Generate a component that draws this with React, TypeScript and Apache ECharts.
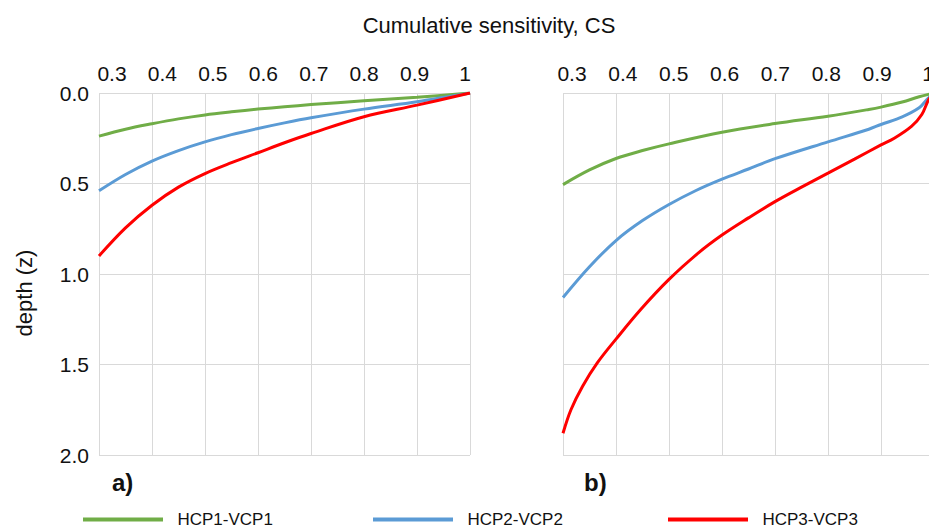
import React, { useEffect, useRef } from "react";
import * as echarts from "echarts";

const SERIES_NAMES = ["HCP1-VCP1", "HCP2-VCP2", "HCP3-VCP3"];
const COLORS = ["#70ad47", "#5b9bd5", "#ff0000"];
const PANEL_LABELS = ["a)", "b)"];
const X_TITLE = "Cumulative sensitivity, CS";
const Y_TITLE = "depth (z)";
const X_TICK_VALUES = [0.3, 0.4, 0.5, 0.6, 0.7, 0.8, 0.9, 1.0];

// Panel a) — cumulative sensitivity (CS) vs depth (z)
const A_CS_1 = [0.3, 0.35, 0.4, 0.45, 0.5, 0.55, 0.6, 0.65, 0.7, 0.8, 0.9, 1.0];
const A_Z_1 = [0.238, 0.2, 0.17, 0.143, 0.121, 0.104, 0.089, 0.076, 0.064, 0.043, 0.024, 0];
const A_CS_2 = [0.3, 0.35, 0.4, 0.45, 0.5, 0.55, 0.6, 0.65, 0.7, 0.8, 0.9, 1.0];
const A_Z_2 = [0.54, 0.45, 0.376, 0.318, 0.27, 0.23, 0.196, 0.165, 0.137, 0.089, 0.048, 0];
const A_CS_3 = [0.3, 0.35, 0.4, 0.45, 0.5, 0.55, 0.6, 0.65, 0.7, 0.8, 0.9, 1.0];
const A_Z_3 = [0.9, 0.745, 0.62, 0.52, 0.445, 0.385, 0.33, 0.275, 0.224, 0.131, 0.067, 0];

// Panel b)
const B_CS_1 = [0.3, 0.35, 0.4, 0.45, 0.5, 0.6, 0.7, 0.8, 0.877, 0.9, 0.94, 0.972, 1.0];
const B_Z_1 = [0.506, 0.425, 0.362, 0.318, 0.281, 0.217, 0.169, 0.128, 0.091, 0.078, 0.05, 0.021, 0];
const B_CS_2 = [0.3, 0.35, 0.4, 0.45, 0.5, 0.55, 0.6, 0.65, 0.7, 0.8, 0.877, 0.9, 0.94, 0.972, 0.987, 1.0];
const B_Z_2 = [1.13, 0.96, 0.815, 0.705, 0.616, 0.54, 0.476, 0.42, 0.363, 0.27, 0.2, 0.174, 0.132, 0.082, 0.035, 0];
const B_CS_3 = [0.3, 0.315, 0.337, 0.365, 0.4, 0.447, 0.5, 0.555, 0.6, 0.65, 0.7, 0.75, 0.8, 0.85, 0.9, 0.925, 0.958, 0.977, 0.99, 1.0];
const B_Z_3 = [1.88, 1.75, 1.62, 1.49, 1.36, 1.195, 1.03, 0.885, 0.785, 0.69, 0.6, 0.52, 0.443, 0.365, 0.287, 0.25, 0.183, 0.119, 0.036, 0];

const PANELS = [
  [
    [A_CS_1, A_Z_1],
    [A_CS_2, A_Z_2],
    [A_CS_3, A_Z_3],
  ],
  [
    [B_CS_1, B_Z_1],
    [B_CS_2, B_Z_2],
    [B_CS_3, B_Z_3],
  ],
];

const FONT = "'Liberation Sans', Arial, sans-serif";
const TEXT_COLOR = "#111111";
const GRID_COLOR = "#d9d9d9";

export default function App() {
  const ref = useRef<HTMLDivElement>(null);

  useEffect(() => {
    if (!ref.current) return;
    const chart = echarts.init(ref.current, null, { renderer: "svg" });

    const gridLefts = [99, 563];
    // label axes: the reference's tick labels sit slightly off the gridlines
    const labelRanges = [
      [0.2742, 1.0099],
      [0.2823, 1.0118],
    ];
    const fmt = (v: number) => String(Math.round(v * 10) / 10);

    const mainX = gridLefts.map((_, i) => ({
      type: "value",
      gridIndex: i,
      position: "top",
      min: 0.3,
      max: 1,
      interval: 0.1,
      axisLine: { show: false },
      axisTick: { show: false },
      axisLabel: { show: false },
      splitLine: { show: true, lineStyle: { color: GRID_COLOR, width: 1 } },
    }));
    const labelX = gridLefts.map((_, i) => ({
      type: "value",
      gridIndex: i,
      position: "top",
      offset: 0,
      min: labelRanges[i][0],
      max: labelRanges[i][1],
      axisLine: { show: false },
      axisTick: { show: false },
      splitLine: { show: false },
      axisLabel: {
        customValues: X_TICK_VALUES,
        fontSize: 21,
        color: TEXT_COLOR,
        fontFamily: FONT,
        margin: 9,
        formatter: fmt,
      },
    }));
    const yAxes = gridLefts.map((_, i) => ({
      type: "value",
      gridIndex: i,
      inverse: true,
      min: 0,
      max: 2,
      interval: 0.5,
      axisLine: { show: false },
      axisTick: { show: false },
      splitLine: { show: true, lineStyle: { color: GRID_COLOR, width: 1 } },
      axisLabel: {
        show: i === 0,
        fontSize: 21,
        color: TEXT_COLOR,
        fontFamily: FONT,
        margin: 10,
        formatter: (v: number) => v.toFixed(1),
      },
    }));

    const series: any[] = [];
    PANELS.forEach((panel, p) => {
      panel.forEach(([cs, z], s) => {
        series.push({
          type: "line",
          name: SERIES_NAMES[s],
          xAxisIndex: p,
          yAxisIndex: p,
          data: cs.map((c, k) => [c, z[k]]),
          showSymbol: false,
          smooth: 0.35,
          lineStyle: { width: 3, color: COLORS[s] },
          itemStyle: { color: COLORS[s] },
        });
      });
    });

    const legendLefts = [83, 373, 668];
    const legends = SERIES_NAMES.map((n, i) => ({
      data: [n],
      left: legendLefts[i],
      top: 511,
      padding: 0,
      icon: "rect",
      itemWidth: 80,
      itemHeight: 4,
      itemGap: 0,
      selectedMode: false,
      formatter: (name: string) => "  " + name,
      textStyle: {
        fontSize: 17,
        lineHeight: 16,
        color: TEXT_COLOR,
        fontFamily: FONT,
      },
    }));

    const textStyle = (text: string, size: number, bold = false, align = "center") => ({
      text,
      fontSize: size,
      fontWeight: bold ? "bold" : "normal",
      fontFamily: FONT,
      fill: TEXT_COLOR,
      textAlign: align,
      textVerticalAlign: "middle",
    });

    chart.setOption({
      animation: false,
      backgroundColor: "#ffffff",
      textStyle: { fontFamily: FONT },
      grid: gridLefts.map((l) => ({ left: l, top: 93, width: 371, height: 362 })),
      xAxis: [...mainX, ...labelX],
      yAxis: yAxes,
      legend: legends,
      series,
      graphic: [
        { type: "text", x: 489, y: 25, style: textStyle(X_TITLE, 22) },
        { type: "text", x: 24, y: 293, rotation: Math.PI / 2, style: textStyle(Y_TITLE, 22) },
        { type: "text", x: 112, y: 482, style: textStyle(PANEL_LABELS[0], 24, true, "left") },
        { type: "text", x: 584, y: 482, style: textStyle(PANEL_LABELS[1], 24, true, "left") },
      ],
    });

    return () => chart.dispose();
  }, []);

  return (
    <div
      style={{
        position: "fixed",
        left: 0,
        top: 0,
        width: 929,
        height: 528,
        overflow: "hidden",
        background: "#ffffff",
      }}
    >
      <div ref={ref} style={{ width: 960, height: 528 }} />
    </div>
  );
}
